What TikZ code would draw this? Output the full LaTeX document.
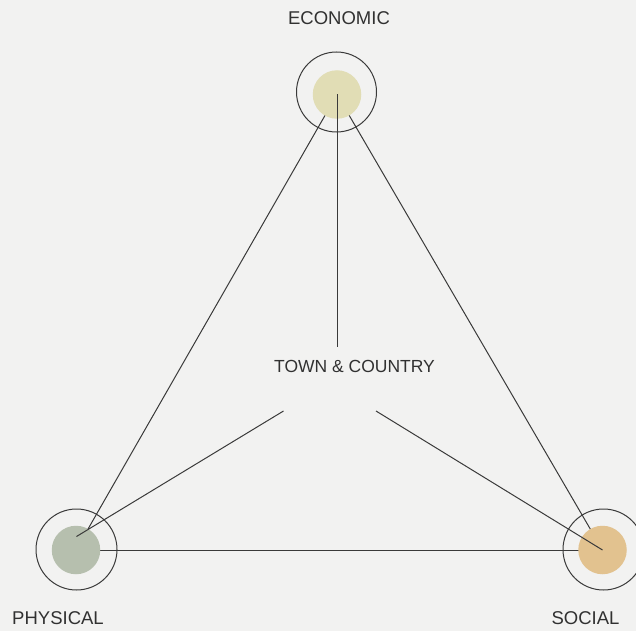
\documentclass[tikz,border=0pt]{standalone}
\usepackage{fontspec}
\setmainfont{Liberation Sans}
\begin{document}
\pgfdeclarelayer{paperlayer}
\pgfdeclarelayer{bg}
\pgfsetlayers{paperlayer,bg,main}
\definecolor{paper}{HTML}{F2F2F1}
\definecolor{ink}{HTML}{3A3A3A}
\definecolor{econfill}{HTML}{E1DDB5}
\definecolor{physfill}{HTML}{B6BFAE}
\definecolor{socfill}{HTML}{E2C28F}
\begin{tikzpicture}[x=1pt,y=-1pt,
  link/.style={draw=ink, line width=1pt},
  ring/.style={circle, draw=ink, line width=1pt, minimum size=80pt, inner sep=0pt},
  dot/.style={circle, minimum size=48.5pt, inner sep=0pt, draw=none},
  label/.style={text=ink!85!black, font=\fontsize{18.5}{20}\selectfont, inner sep=0pt}]
  % page and paper tone
  \begin{pgfonlayer}{paperlayer}
    \fill[paper] (0,0) rectangle (636,631);
  \end{pgfonlayer}
  \useasboundingbox (0,0) rectangle (636,631);

  % rings around the three poles
  \node[ring, minimum size=80pt] (econring) at (336.5,92) {};
  \node[ring, minimum size=81pt] (physring) at (76.5,549.5) {};
  \node[ring, minimum size=81pt] (socring) at (603.5,549.5) {};

  % filled poles
  \node[dot, fill=econfill] (econ) at (337,94.5) {};
  \node[dot, fill=physfill] (phys) at (76,550) {};
  \node[dot, fill=socfill] (soc) at (602.5,550) {};

  % triangle sides, running behind the filled poles
  \begin{pgfonlayer}{bg}
    \draw[link] (econ.center) -- (phys.center);
    \draw[link] (econ.center) -- (soc.center);
    \draw[link] (phys.center) -- (soc.center);
  \end{pgfonlayer}

  % centre label and spokes
  \node[label, font=\fontsize{17.5}{20}\selectfont] (town) at (354.5,366) {TOWN \& COUNTRY};
  \coordinate (spokeTop) at (337,347);
  \coordinate (spokeLeft) at (283.5,411);
  \coordinate (spokeRight) at (376,411);
  \coordinate (physEnd) at (76.5,536.5);

  \draw[link] (econ.center) -- (spokeTop);
  \draw[link] (spokeLeft) -- (physEnd);
  \draw[link] (spokeRight) -- (soc.center);

  % pole names
  \node[label] (econlabel) at (339,18) {ECONOMIC};
  \node[label] (physlabel) at (58,618.5) {PHYSICAL};
  \node[label] (soclabel) at (585.5,618.5) {SOCIAL};
\end{tikzpicture}
\end{document}
